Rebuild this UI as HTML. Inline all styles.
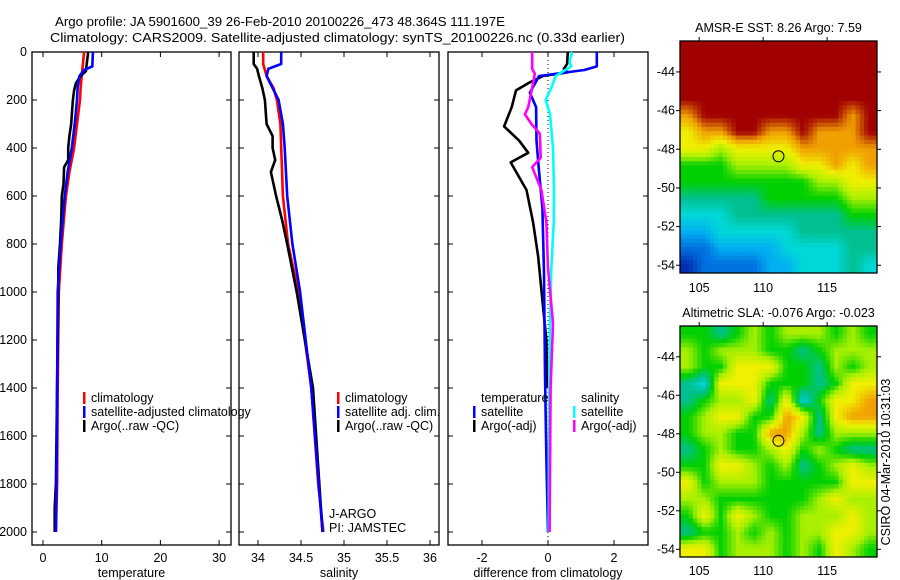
<!DOCTYPE html>
<html><head><meta charset="utf-8">
<style>
html,body{margin:0;padding:0;background:#fff;}
svg{display:block;font-family:"Liberation Sans",Arial,sans-serif;}
</style></head>
<body>
<svg id="fig" width="900" height="580" viewBox="0 0 900 580" xmlns="http://www.w3.org/2000/svg">
<defs>
<clipPath id="c1"><rect x="680" y="41" width="197" height="232"/></clipPath>
<clipPath id="c2"><rect x="680" y="326" width="197" height="231"/></clipPath>
</defs>
<text x="55" y="26" font-size="13.3" textLength="450" lengthAdjust="spacingAndGlyphs">Argo profile: JA 5901600_39 26-Feb-2010 20100226_473 48.364S 111.197E</text>
<text x="50" y="42" font-size="13.3" textLength="575" lengthAdjust="spacingAndGlyphs">Climatology: CARS2009. Satellite-adjusted climatology: synTS_20100226.nc (0.33d earlier)</text>
<g id="g"></g>
</svg>
<script>
// ---- data ----
const depthTicks=[0,200,400,600,800,1000,1200,1400,1600,1800,2000];
const tempTicks=[0,10,20,30];
const salTicks=[34,34.5,35,35.5,36];
const diffTicks=[-2,0,2];
const lonTicks=[105,110,115];
const latTicks=[-44,-46,-48,-50,-52,-54];

const tClimDepth=[0,50,100,150,200,300,400,500,600,800,1000,1400,1800,2000];
const tClimVal=[7.0,6.8,6.6,6.4,6.3,5.8,5.3,4.5,3.9,3.2,2.7,2.5,2.4,2.2];
const tSatDepth=[0,60,75,100,150,200,300,400,500,600,800,1000,1400,1800,2000];
const tSatVal=[8.5,8.4,7.0,6.2,5.9,5.8,5.4,4.9,4.2,3.7,3.0,2.5,2.4,2.3,2.2];
const tArgoDepth=[0,40,80,100,130,160,200,260,300,350,400,450,480,550,600,700,800,900,1000,1400,1800,1900,2000];
const tArgoVal=[7.7,7.5,7.3,6.4,5.6,5.3,5.1,4.9,4.8,4.5,4.3,4.3,3.6,3.5,3.2,3.1,2.9,2.6,2.6,2.4,2.2,2.0,2.0];

const sClimDepth=[0,50,100,150,200,300,400,500,600,800,1000,1400,1800,2000];
const sClimVal=[34.06,34.06,34.10,34.18,34.22,34.26,34.27,34.28,34.29,34.35,34.47,34.62,34.70,34.76];
const sSatDepth=[0,50,70,100,150,200,300,400,600,800,1000,1400,2000];
const sSatVal=[34.27,34.27,34.12,34.10,34.17,34.24,34.29,34.31,34.34,34.40,34.49,34.62,34.75];
const sArgoDepth=[0,50,70,100,150,200,300,350,400,450,500,600,700,800,1000,1400,2000];
const sArgoVal=[33.95,33.95,33.99,34.01,34.05,34.08,34.10,34.17,34.17,34.20,34.15,34.21,34.28,34.34,34.45,34.64,34.75];

const dTSatDepth=[0,60,75,100,170,230,370,500,650,920,1340,1700,2000];
const dTSatVal=[1.48,1.48,1.1,-0.27,-0.55,-0.36,-0.35,-0.27,-0.17,-0.12,-0.09,-0.05,0.0];
const dTArgoDepth=[0,50,70,85,100,130,160,230,310,370,420,460,575,710,850,1060,1200,1400];
const dTArgoVal=[0.6,0.58,0.48,0.6,-0.15,-0.6,-0.97,-1.1,-1.33,-0.87,-0.6,-1.13,-0.65,-0.45,-0.3,-0.15,-0.05,-0.02];
const dSSatDepth=[0,40,60,100,150,200,260,400,560,700,900,1200,1500,2000];
const dSSatVal=[0.73,0.65,0.7,0.23,0.1,-0.07,0.06,0.15,0.18,0.18,0.1,0.05,0.03,0.02];
const dSArgoDepth=[0,70,90,130,230,260,300,340,440,480,575,710,900,1130,1400,2000];
const dSArgoVal=[-0.48,-0.48,-0.4,-0.45,-0.6,-0.7,-0.5,-0.25,-0.22,-0.48,-0.2,-0.05,0.0,0.15,0.08,0.05];

const sstGrid=["999999999999","999999999999","999999999999","999999999999",
"899999999989","788998898889","776777788888","555666677878","555555556677",
"444445555566","333444444455","223333344444","112222333344","011112233343"];
const slaGrid=["554565666565","656665545666","655777554656","437775554577",
"456674735778","567755874788","566558864666","456556756544","557765645676",
"756665555577","665555556766","575765566676","455656566776","775666565765"];
const jet=[[0,48,176],[0,112,224],[0,176,240],[0,216,216],[0,192,144],[0,208,0],[168,240,0],[240,240,0],[240,160,0],[160,0,0]];
const argoLon=111.197, argoLat=-48.364;

// ---- drawing ----
const NS="http://www.w3.org/2000/svg";
const G=document.getElementById('g');
function mk(tag,at,parent){const e=document.createElementNS(NS,tag);for(const k in at)e.setAttribute(k,at[k]);(parent||G).appendChild(e);return e;}
const Y0=52, KY=0.24, BOT=545;
const yD=d=>Y0+d*KY;

function panel(name,x0,x1,xs,ticks,fmt,label,showY){
  const r=mk('rect',{x:x0,y:Y0,width:x1-x0,height:BOT-Y0,fill:'none',stroke:'#000','stroke-width':1.3});
  
  
  ticks.forEach(v=>{const x=xs(v);
    mk('line',{x1:x,x2:x,y1:Y0,y2:Y0+5,stroke:'#000'});
    mk('line',{x1:x,x2:x,y1:BOT,y2:BOT-5,stroke:'#000'});
    const t=mk('text',{x:x,y:BOT+17,'font-size':12.5,'text-anchor':'middle'});t.textContent=fmt(v);
    
    
  });
  depthTicks.forEach(d=>{const y=yD(d);
    mk('line',{x1:x0,x2:x0+5,y1:y,y2:y,stroke:'#000'});
    mk('line',{x1:x1,x2:x1-5,y1:y,y2:y,stroke:'#000'});
    if(showY){const t=mk('text',{x:x0-5,y:y+4,'font-size':12.5,'text-anchor':'end'});t.textContent=d;
      
      }
  });
  const l=mk('text',{x:(x0+x1)/2,y:BOT+32,'font-size':12.5,'text-anchor':'middle'});l.textContent=label;
  
  
}
function line(name,depths,vals,xs,color){
  const pts=depths.map((d,i)=>xs(vals[i]).toFixed(1)+','+yD(d).toFixed(1));
  const p=mk('polyline',{points:pts.join(' '),fill:'none',stroke:color,'stroke-width':2.6,'stroke-linejoin':'round'});
  
  
}
function legend(name,x,y,items){
  items.forEach((it,i)=>{const yy=y+i*14;
    if(it[1])mk('rect',{x:x,y:yy-10,width:2.5,height:12,fill:it[1]});
    const t=mk('text',{x:x+8,y:yy,'font-size':12.5});t.textContent=it[0];
    
    
  });
}
// panel 1 temperature
const xT=v=>43+v*5.87;
panel('temperature',32,231,xT,tempTicks,v=>v,'temperature',true);
line('temp-climatology-line',tClimDepth,tClimVal,xT,'#ff0000');
line('temp-argo-line',tArgoDepth,tArgoVal,xT,'#000000');
line('temp-satellite-line',tSatDepth,tSatVal,xT,'#0000ff');
legend('temp-legend',83,402,[['climatology','#f00'],['satellite-adjusted climatology','#00f'],['Argo(..raw -QC)','#000']]);
// panel 2 salinity
const xS=v=>258+(v-34)*86;
panel('salinity',239,439,xS,salTicks,v=>v,'salinity',false);
line('sal-climatology-line',sClimDepth,sClimVal,xS,'#ff0000');
line('sal-argo-line',sArgoDepth,sArgoVal,xS,'#000000');
line('sal-satellite-line',sSatDepth,sSatVal,xS,'#0000ff');
legend('sal-legend',337,402,[['climatology','#f00'],['satellite adj. clim.','#00f'],['Argo(..raw -QC)','#000']]);
legend('agency',321,518,[['J-ARGO',null],['PI: JAMSTEC',null]]);
// panel 3 difference
const xDf=v=>548+v*33;
panel('difference',448,648,xDf,diffTicks,v=>v,'difference from climatology',false);
mk('line',{x1:548,x2:548,y1:Y0,y2:BOT,stroke:'#000','stroke-dasharray':'1,3'});
line('diff-temp-argo-line',dTArgoDepth,dTArgoVal,xDf,'#000000');
line('diff-temp-satellite-line',dTSatDepth,dTSatVal,xDf,'#0000ff');
line('diff-sal-satellite-line',dSSatDepth,dSSatVal,xDf,'#00ffff');
line('diff-sal-argo-line',dSArgoDepth,dSArgoVal,xDf,'#ff00ff');
legend('diff-temp-legend',473,402,[['temperature',null],['satellite','#00f'],['Argo(-adj)','#000']]);
legend('diff-sal-legend',573,402,[['salinity',null],['satellite','#0ff'],['Argo(-adj)','#f0f']]);

function colorOf(v){v=Math.max(0,Math.min(9,v));const i=Math.min(8,Math.floor(v)),f=v-i;
  const a=jet[i],b=jet[i+1];return 'rgb('+a.map((c,k)=>Math.round(c+(b[k]-c)*f)).join(',')+')';}
function sample(grid,fy,fx){
  const R=grid.length,C=grid[0].length;
  fy=Math.max(0,Math.min(R-1,fy));fx=Math.max(0,Math.min(C-1,fx));
  const r0=Math.floor(fy),c0=Math.floor(fx),r1=Math.min(R-1,r0+1),c1=Math.min(C-1,c0+1);
  const ty=fy-r0,tx=fx-c0,g=(r,c)=>+grid[r][c];
  return (g(r0,c0)*(1-tx)+g(r0,c1)*tx)*(1-ty)+(g(r1,c0)*(1-tx)+g(r1,c1)*tx)*ty;
}
// maps
function map(name,top,bottom,grid,clip,title,xlabY){
  const x0=680,x1=877;
  const lonX=l=>x0+(l-103.5)*(x1-x0)/(118.9-103.5);
  const latY=(bottom-top)/(54.4-42.4);
  const yL=l=>top+(-42.4-l)*latY;
  const g=mk('g',{'clip-path':'url(#'+clip+')'});
  const rows=grid.length, cols=grid[0].length;
  const NX=46,NY=54, cw=(x1-x0)/NX, ch=(bottom-top)/NY;
  for(let r=0;r<NY;r++)for(let c=0;c<NX;c++){
    const v=sample(grid,(r+0.5)/NY*rows-0.5,(c+0.5)/NX*cols-0.5);
    const cell=mk('rect',{x:(x0+c*cw).toFixed(2),y:(top+r*ch).toFixed(2),width:(cw+0.5).toFixed(2),height:(ch+0.5).toFixed(2),fill:colorOf(v)},g);
    
    
  }
  const b=mk('rect',{x:x0,y:top,width:x1-x0,height:bottom-top,fill:'none',stroke:'#000','stroke-width':1.3});
  
  
  lonTicks.forEach(l=>{const x=lonX(l);
    mk('line',{x1:x,x2:x,y1:top-4,y2:top,stroke:'#000'});
    const t=mk('text',{x:x,y:xlabY,'font-size':12.5,'text-anchor':'middle'});t.textContent=l;
    
    
  });
  latTicks.forEach(l=>{const y=yL(l);
    mk('line',{x1:x0-4,x2:x0,y1:y,y2:y,stroke:'#000'});
    mk('line',{x1:x1,x2:x1+4,y1:y,y2:y,stroke:'#000'});
    const t=mk('text',{x:x0-5,y:y+4,'font-size':12.5,'text-anchor':'end'});t.textContent=l;
    
    
  });
  const c=mk('circle',{cx:lonX(argoLon),cy:yL(argoLat),r:5.5,fill:'none',stroke:'#000','stroke-width':1});
  
  
  const t=mk('text',{x:(x0+x1)/2,y:top-9,'font-size':12.5,'text-anchor':'middle'});t.textContent=title;
  
  
}
map('sst-map',41,273,sstGrid,'c1','AMSR-E SST: 8.26 Argo: 7.59',292);
map('sla-map',326,557,slaGrid,'c2','Altimetric SLA: -0.076 Argo: -0.023',575);
const st=mk('text',{x:890,y:462,'font-size':12.5,'text-anchor':'middle',transform:'rotate(-90 890 462)'});
st.textContent='CSIRO 04-Mar-2010 10:31:03';


</script>
</body></html>
